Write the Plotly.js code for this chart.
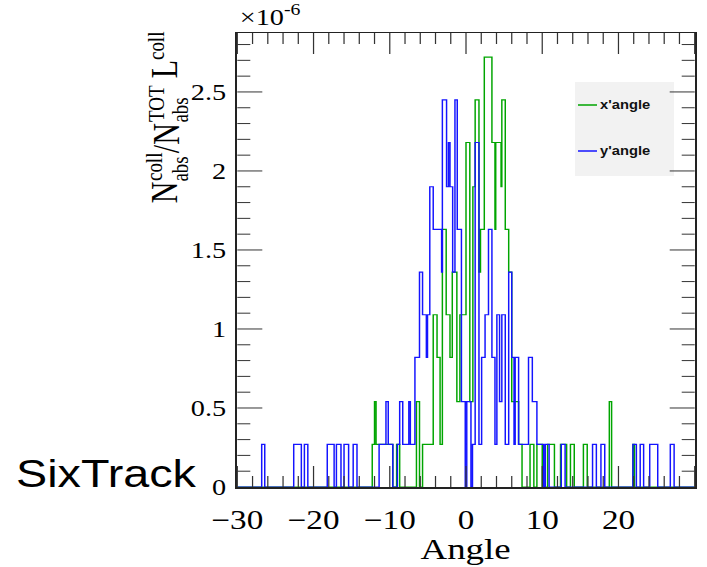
<!DOCTYPE html>
<html><head><meta charset="utf-8">
<script src="https://cdn.plot.ly/plotly-3.0.1.min.js"></script>
<style>
html,body{margin:0;padding:0;overflow:hidden;background:#fff;width:707px;height:567px}
#wrap{width:707px;height:567px;overflow:hidden;position:relative}
#chart{transform-origin:0 0;position:absolute;left:0;top:0}
</style></head><body><div id="wrap"><div id="chart"></div></div>
<script>
// ---- data (values in units of 1e-6) ----
const xAngleEdges = [-30,-12.3,-12.0,-11.8,-9.6,-9.1,-8.7,-6.5,-6.1,-5.7,-4.3,-3.8,-3.4,-3.1,-2.6,-2.1,-1.8,-1.2,-0.8,0.0,0.5,0.9,1.2,1.7,1.9,2.4,3.4,3.8,3.9,4.6,4.7,5.15,5.6,6.0,6.9,7.35,8.4,8.9,9.3,10.0,10.7,11.6,12.4,13.2,13.7,14.2,15.4,15.9,18.8,19.1,21.9,22.1,30];
const xAngleValues = [0,0.27,0.54,0.27,0,0.27,0,0.54,0,0.27,1.09,0.82,0.27,1.63,1.09,0.82,1.36,0.54,1.09,2.18,0.54,1.90,2.45,1.36,1.63,2.72,2.18,1.63,2.18,1.90,2.45,1.63,1.36,0.54,0.27,0,0.27,0,0.27,0,0.27,0,0.27,0,0.27,0,0.27,0,0.54,0,0.27,0,0];
const yAngleEdges = [-30,-26.8,-26.4,-22.6,-21.6,-21.2,-20.75,-18.2,-17.3,-17.0,-16.4,-16.0,-15.4,-14.8,-14.3,-11.4,-10.5,-10.2,-9.6,-9.0,-8.7,-8.3,-7.5,-7.3,-6.7,-6.1,-5.7,-5.2,-5.05,-4.75,-4.3,-3.2,-3.1,-2.55,-2.3,-2.1,-1.75,-1.45,-1.15,-0.6,-0.1,0.1,0.65,0.85,1.2,1.7,2.05,2.5,2.95,3.4,3.8,4.05,4.4,4.7,5.15,5.6,6.0,6.3,6.45,6.9,8.2,8.7,9.3,10.2,10.4,10.9,12.5,13.0,16.6,17.1,17.7,18.2,21.9,22.35,22.85,23.3,24.1,25.15,26.8,27.3,30];
const yAngleValues = [0,0.27,0,0.27,0,0.27,0,0.27,0,0.27,0,0.27,0,0.27,0,0.27,0.54,0.27,0,0.27,0.54,0.27,0.54,0.27,0.82,1.36,1.09,0.82,1.09,1.90,1.63,1.36,2.45,1.90,2.18,1.90,1.36,2.45,1.63,0.54,0,0.54,0,0.27,2.18,0.27,0.82,1.09,1.63,0.82,0.27,1.09,0.54,1.09,0.27,1.36,0.82,0.27,0.82,0.27,0.82,0.54,0.27,0,0.27,0,0.27,0,0.27,0,0.27,0,0.27,0,0.27,0,0.27,0,0.27,0,0];
const seriesNames = ["x'angle", "y'angle"];
const xRange = [-30, 30];
const yRange = [0, 2.873];

// ---- page geometry (integer sizes, then stretched horizontally like the reference) ----
const W = 707, H = 567, W0 = 575;
const S = W / W0;
const chart = document.getElementById('chart');
chart.style.width = W0 + 'px';
chart.style.height = H + 'px';
chart.style.transform = 'scaleX(' + S + ')';

const green = 'rgb(0,165,0)', blue = 'rgb(20,20,255)';
const serif = 'Liberation Serif, Times New Roman, serif';
const sans = 'Liberation Sans, Arial, sans-serif';

const traces = [
  {x: xAngleEdges, y: xAngleValues, name: seriesNames[0], type: 'scatter', mode: 'lines',
   line: {shape: 'hv', color: green, width: 1.2}, showlegend: false},
  {x: yAngleEdges, y: yAngleValues, name: seriesNames[1], type: 'scatter', mode: 'lines',
   line: {shape: 'hv', color: blue, width: 1.2}, showlegend: false}
];

const mL = 193, mR = 10, mT = 33, mB = 80;
const L = mL * S, R = (W0 - mR) * S, T = mT, B = H - mB;
const pw = R - L, ph = B - T;
const px = v => (v - L) / pw;
const py = v => (B - v) / ph;

function rot(text, cx, cy, size) {
  return {xref: 'paper', yref: 'paper', x: px(cx), y: py(cy), xanchor: 'center', yanchor: 'middle',
          showarrow: false, textangle: -90, text: text, font: {family: serif, size: size, color: '#000'}};
}

// ---- ROOT-style tick marks on all four sides (major + minor) ----
const tickCol = '#333';
const tickShapes = [];
const fx = v => (v - xRange[0]) / (xRange[1] - xRange[0]);
const fy = v => (v - yRange[0]) / (yRange[1] - yRange[0]);
for (let k = -15; k <= 15; k++) {
  const v = 2 * k, len = (k % 5 === 0 ? 21 : 11) / ph;
  tickShapes.push({type: 'line', xref: 'paper', yref: 'paper', x0: fx(v), x1: fx(v), y0: 0, y1: len, line: {color: tickCol, width: 1}});
  tickShapes.push({type: 'line', xref: 'paper', yref: 'paper', x0: fx(v), x1: fx(v), y0: 1 - len, y1: 1, line: {color: tickCol, width: 1}});
}
for (let k = 1; k <= 28; k++) {
  const v = k / 10, len = (k % 5 === 0 ? 25 : 13) / pw;
  tickShapes.push({type: 'line', xref: 'paper', yref: 'paper', x0: 0, x1: len, y0: fy(v), y1: fy(v), line: {color: tickCol, width: 1}});
  tickShapes.push({type: 'line', xref: 'paper', yref: 'paper', x0: 1 - len, x1: 1, y0: fy(v), y1: fy(v), line: {color: tickCol, width: 1}});
}

const layout = {
  width: W0, height: H,
  margin: {l: mL, r: mR, t: mT, b: mB},
  paper_bgcolor: '#fff', plot_bgcolor: '#fff',
  font: {family: serif, color: '#000'},
  xaxis: {
    range: xRange, tickmode: 'linear', tick0: -30, dtick: 10, ticks: '',
    showline: true, linecolor: '#222', linewidth: 1.5, mirror: true,
    showgrid: false, zeroline: false, ticklabelstandoff: 8,
    tickfont: {family: serif, size: 27, color: '#000'}
  },
  yaxis: {
    range: yRange, tickmode: 'linear', tick0: 0, dtick: 0.5, ticks: '',
    showline: true, linecolor: '#222', linewidth: 1.5, mirror: true,
    showgrid: false, zeroline: false, ticklabelstandoff: 3,
    tickfont: {family: serif, size: 23, color: '#000'}
  },
  shapes: [
    {type: 'rect', xref: 'paper', yref: 'paper', x0: px(575), x1: px(674), y0: py(176), y1: py(82),
     fillcolor: '#f2f2f2', line: {width: 0}, layer: 'below'},
    {type: 'line', xref: 'paper', yref: 'paper', x0: px(578), x1: px(597), y0: py(105), y1: py(105),
     line: {color: green, width: 1.5}},
    {type: 'line', xref: 'paper', yref: 'paper', x0: px(578), x1: px(597), y0: py(151), y1: py(151),
     line: {color: blue, width: 1.5}}
  ].concat(tickShapes),
  annotations: [
    {xref: 'paper', yref: 'paper', x: px(598), y: py(105), xanchor: 'left', yanchor: 'middle', showarrow: false,
     text: '<b>' + seriesNames[0] + '</b>', font: {family: sans, size: 12, color: '#111'}},
    {xref: 'paper', yref: 'paper', x: px(598), y: py(151), xanchor: 'left', yanchor: 'middle', showarrow: false,
     text: '<b>' + seriesNames[1] + '</b>', font: {family: sans, size: 12, color: '#111'}},
    {xref: 'paper', yref: 'paper', x: 0, y: py(32), xanchor: 'left', yanchor: 'bottom', showarrow: false,
     text: '×10<sup>-6</sup>', font: {family: serif, size: 23, color: '#000'}},
    {xref: 'paper', yref: 'paper', x: px(466), y: py(548), xanchor: 'center', yanchor: 'middle', showarrow: false,
     text: 'Angle', font: {family: serif, size: 30, color: '#000'}},
    {xref: 'paper', yref: 'paper', x: px(13), y: py(474), xanchor: 'left', yanchor: 'middle', showarrow: false,
     text: 'SixTrack', font: {family: sans, size: 38, color: '#000'}},
    rot('N', 165, 192, 30),
    rot('coll', 155, 167, 19),
    rot('abs', 179, 169, 19),
    rot('/N', 165, 138, 30),
    rot('TOT', 155, 104, 19),
    rot('abs', 179, 110, 19),
    rot('L', 165, 69, 30),
    rot('coll', 155, 46, 19)
  ]
};

Plotly.newPlot(chart, traces, layout, {staticPlot: true, displayModeBar: false});
</script></body></html>
